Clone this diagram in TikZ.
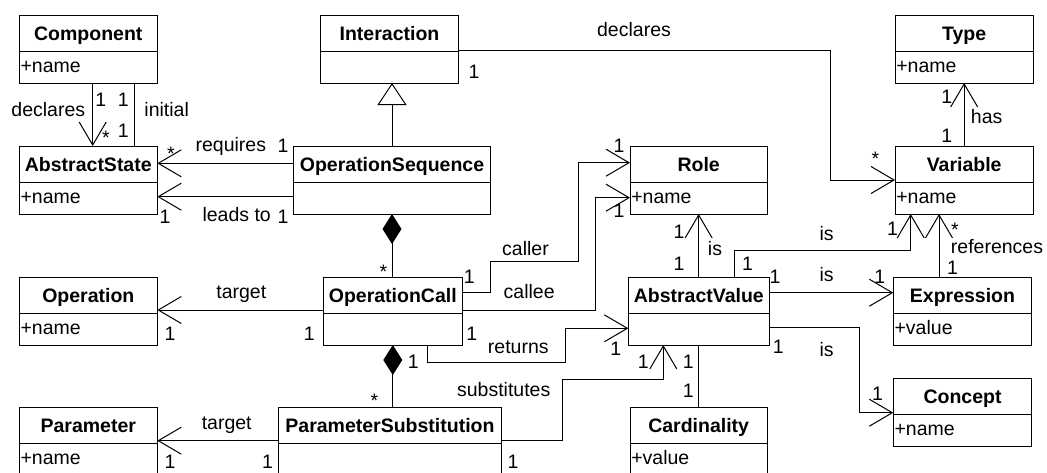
\documentclass[tikz,border=0pt]{standalone}
\usepackage{fontspec}
\setmainfont{Liberation Sans}
\usetikzlibrary{arrows.meta}

\tikzset{
  classbox/.style={draw, line width=1pt, fill=white, inner sep=0pt, outer sep=0pt, minimum height=68pt},
  txt/.style={inner sep=0pt, outer sep=0pt, text height=14pt, text depth=0pt,
              font=\fontsize{19.5}{23}\selectfont},
  titletxt/.style={txt, font=\fontsize{19.5}{23}\selectfont\bfseries},
  lbl/.style={txt},
  conn/.style={line width=1pt},
  assoc/.style={conn, -{Straight Barb[length=23pt, width=27pt, line width=1pt]}},
  generalize/.style={conn, -{Triangle[open, length=22pt, width=29pt, line width=1pt, fill=white]}},
  compose/.style={conn, {Diamond[length=30pt, width=19pt, fill=black]}-},
}

% class box: name, left, top, width, title, attribute
\newcommand\umlclass[6]{%
  \node[classbox, minimum width=#4pt, anchor=north west] (#1) at (#2,#3) {};
  \draw[conn] ([yshift=-36.5pt]#1.north west) -- ([yshift=-36.5pt]#1.north east);
  \node[titletxt] (#1-title) at ([yshift=-18.5pt]#1.north) {#5};
  \node[txt, anchor=west] (#1-attr) at ([xshift=1.3pt,yshift=-50.5pt]#1.north west) {#6};
}
% connector label: name, x, y, text
\newcommand\lbl[4]{\node[lbl] (#1) at (#2,#3) {#4};}

\begin{document}
\begin{tikzpicture}[x=1pt, y=-1pt]
\useasboundingbox (0,0) rectangle (1047,472);
\fill[white] (0,0) rectangle (1047,472);
\clip (0,0) rectangle (1047,472);

% classes
\umlclass{comp}{19.3}{15}{138}{Component}{+name}
\umlclass{astate}{19.3}{146}{138}{AbstractState}{+name}
\umlclass{inter}{320.7}{15}{137.6}{Interaction}{}
\umlclass{opseq}{293.3}{146}{197.4}{OperationSequence}{}
\umlclass{type}{895}{15}{138.3}{Type}{+name}
\umlclass{var}{895}{146}{138.3}{Variable}{+name}
\umlclass{role}{630}{146}{137.3}{Role}{+name}
\umlclass{op}{19.3}{277}{138}{Operation}{+name}
\umlclass{opcall}{323.3}{277}{139}{OperationCall}{}
\umlclass{absval}{628.3}{277}{141}{AbstractValue}{}
\umlclass{expr}{893.3}{277}{138.4}{Expression}{+value}
\umlclass{concept}{893.3}{378}{138.4}{Concept}{+name}
\umlclass{param}{19.3}{407}{138}{Parameter}{+name}
\umlclass{psub}{278.3}{407}{223.4}{ParameterSubstitution}{}
\umlclass{card}{630}{407}{137.3}{Cardinality}{+value}

% Component -- AbstractState
\draw[assoc] ([xshift=73.4pt]comp.south west) -- ([xshift=73.4pt]astate.north west);
\draw[conn] ([xshift=115pt]comp.south west) -- ([xshift=115pt]astate.north west);
% OperationSequence -- AbstractState
\draw[assoc] ([yshift=-17.3pt]opseq.north west) -- ([yshift=-17.3pt]astate.north east);
\draw[assoc] ([yshift=-50.7pt]opseq.north west) -- ([yshift=-50.7pt]astate.north east);
% generalization and compositions
\draw[generalize] (opseq.north) -- (opseq.north |- inter.south);
\draw[compose] (opseq.south) -- (opseq.south |- opcall.north);
\draw[compose] (opcall.south) -- (opcall.south |- psub.north);
% targets
\draw[assoc] ([yshift=-33pt]opcall.north west) -- ([yshift=-33pt]op.north east);
\draw[assoc] ([yshift=-33.7pt]psub.north west) -- ([yshift=-33.7pt]param.north east);
% caller / callee
\draw[assoc] ([yshift=-15.7pt]opcall.north east) -- ++(28.4,0) |- ++(87.6,-31)
  |- ([yshift=-16.7pt]role.north west);
\draw[assoc] ([yshift=-33pt]opcall.north east) -- ++(133.4,0)
  |- ([yshift=-51.7pt]role.north west);
% returns
\draw[assoc] ([xshift=104pt]opcall.south west) -- ++(0,17.7) -- ++(137.7,0)
  |- ([yshift=-51.3pt]absval.north west);
% substitutes
\draw[assoc] ([yshift=-33.7pt]psub.north east) -- ++(61,0) |- ++(100.6,-61.4)
  -- ([xshift=35pt]absval.south west);
% cardinality
\draw[conn] (card.north) -- (card.north |- absval.south);
% AbstractValue -- Role, Variable, Expression, Concept
\draw[assoc] (absval.north -| role.south) -- (role.south);
\draw[assoc] ([xshift=105.7pt]absval.north west) -- ++(0,-26.3)
  -| ([xshift=15.7pt]var.south west);
\draw[assoc] ([yshift=-15.7pt]absval.north east) -- ([yshift=-15.7pt]expr.north west);
\draw[assoc] ([yshift=-50.7pt]absval.north east) -- ++(90,0)
  |- ([yshift=-34.7pt]concept.north west);
% Expression -- Variable, Variable -- Type
\draw[assoc] ([xshift=45.7pt]expr.north west) -- ([xshift=44pt]var.south west);
\draw[assoc] (var.north) -- (type.south);
% Interaction declares Variable
\draw[assoc] ([yshift=-35pt]inter.north east) -- ++(371.7,0)
  |- ([yshift=-34pt]var.north west);

% labels
\lbl{l1}{48.3}{109.7}{declares}
\lbl{l2}{100.7}{99.3}{1}
\lbl{l3}{123.3}{99.3}{1}
\lbl{l4}{166.7}{109.7}{initial}
\lbl{l5}{106}{137}{*}
\lbl{l6}{123.3}{130}{1}
\lbl{l7}{170.8}{153.4}{*}
\lbl{l8}{230.8}{144.7}{requires}
\lbl{l9}{283}{145.5}{1}
\lbl{l10}{165}{216.7}{1}
\lbl{l11}{236.7}{214.7}{leads to}
\lbl{l12}{283}{216.7}{1}
\lbl{l13}{474}{71.7}{1}
\lbl{l14}{634}{29.7}{declares}
\lbl{l15}{875.3}{158.9}{*}
\lbl{l16}{619}{145}{1}
\lbl{l17}{619}{210}{1}
\lbl{l18}{946.7}{96.7}{1}
\lbl{l19}{986.7}{116.3}{has}
\lbl{l20}{946.7}{135}{1}
\lbl{l21}{679}{231.7}{1}
\lbl{l22}{715}{248}{is}
\lbl{l23}{679}{263.3}{1}
\lbl{l24}{826.7}{233}{is}
\lbl{l25}{747.5}{263}{1}
\lbl{l26}{955}{229.3}{*}
\lbl{l27}{892.5}{228.3}{1}
\lbl{l28}{997}{246.8}{references}
\lbl{l29}{952.5}{267.5}{1}
\lbl{l30}{775}{276.7}{1}
\lbl{l31}{826.7}{274.7}{is}
\lbl{l32}{879.7}{276.7}{1}
\lbl{l33}{615.8}{348.3}{1}
\lbl{l34}{643.3}{361.7}{1}
\lbl{l35}{688.3}{361.7}{1}
\lbl{l36}{688.3}{390.8}{1}
\lbl{l37}{778.3}{346.7}{1}
\lbl{l38}{826.7}{349}{is}
\lbl{l39}{877.5}{393.3}{1}
\lbl{l40}{383.3}{271.7}{*}
\lbl{l41}{525.5}{248}{caller}
\lbl{l42}{469.2}{276.7}{1}
\lbl{l43}{529.2}{291.3}{callee}
\lbl{l44}{309.3}{333.3}{1}
\lbl{l45}{471.7}{333.3}{1}
\lbl{l46}{518.3}{346.3}{returns}
\lbl{l47}{413.3}{361.7}{1}
\lbl{l48}{503.7}{389.7}{substitutes}
\lbl{l49}{374.3}{400.9}{*}
\lbl{l50}{513}{461.7}{1}
\lbl{l51}{241.3}{291.3}{target}
\lbl{l52}{170}{333.3}{1}
\lbl{l53}{226.7}{422.3}{target}
\lbl{l54}{170}{461.7}{1}
\lbl{l55}{267.5}{461.7}{1}
\end{tikzpicture}
\end{document}
